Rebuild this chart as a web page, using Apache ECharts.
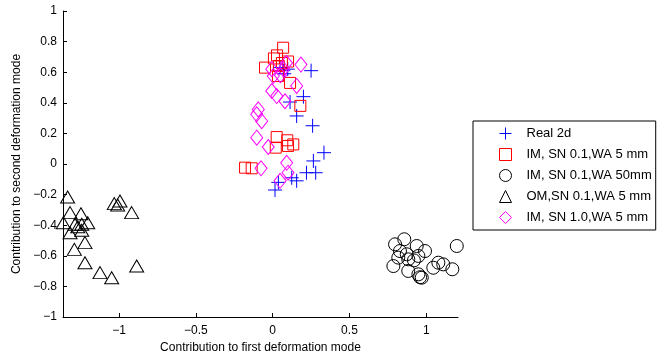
<!DOCTYPE html>
<html>
<head>
<meta charset="utf-8">
<script src="https://cdn.jsdelivr.net/npm/echarts@6/dist/echarts.min.js"></script>
<style>
  html, body { margin: 0; padding: 0; background: #fff; }
  #chart { width: 668px; height: 360px; }
</style>
</head>
<body>
<div id="chart"></div>
<script>
// legend names
var seriesNames = ['Real 2d', 'IM, SN 0.1,WA 5 mm', 'IM, SN 0.1,WA 50mm', 'OM,SN 0.1,WA 5 mm', 'IM, SN 1.0,WA 5 mm'];

// tick values
var xTicks = [-1, -0.5, 0, 0.5, 1];

// points [first mode, second mode]
var real2d = [
  [0.25, 0.61], [0.098, 0.62], [0.069, 0.61], [0.048, 0.63], [0.075, 0.59],
  [0.2, 0.44], [0.113, 0.405], [0.156, 0.314], [0.26, 0.25], [0.334, 0.074],
  [0.265, 0.02], [0.22, -0.057], [0.28, -0.057], [0.124, -0.09], [0.156, -0.11],
  [0.037, -0.12], [0.015, -0.17]
];
var imSn01Wa5 = [
  [0.068, 0.76], [0.028, 0.71], [0.008, 0.69], [-0.05, 0.63], [0.1, 0.67],
  [0.06, 0.66], [0.04, 0.64], [0.035, 0.575], [0.113, 0.53], [0.18, 0.38],
  [0.026, 0.176], [0.095, 0.155], [0.02, 0.107], [0.1, 0.118], [0.134, 0.128],
  [-0.18, -0.024], [-0.137, -0.028]
];
var imSn01Wa50 = [
  [0.857, -0.492], [0.797, -0.525], [0.818, -0.612], [0.786, -0.667], [0.873, -0.59],
  [0.883, -0.623], [0.938, -0.536], [0.992, -0.569], [0.949, -0.601], [0.883, -0.699],
  [0.949, -0.721], [0.971, -0.743], [1.046, -0.678], [1.079, -0.645], [1.111, -0.656],
  [1.17, -0.688], [1.199, -0.536], [0.829, -0.569], [0.92, -0.63], [0.96, -0.74]
];
var omSn01Wa5 = [
  [-1.336, -0.216], [-1.32, -0.318], [-1.364, -0.384], [-1.249, -0.325], [-1.205, -0.384],
  [-1.288, -0.394], [-1.244, -0.394], [-1.32, -0.449], [-1.244, -0.433], [-1.223, -0.514],
  [-1.292, -0.558], [-1.223, -0.645], [-1.125, -0.71], [-1.049, -0.743], [-0.886, -0.667],
  [-1.032, -0.259], [-0.995, -0.242], [-1.01, -0.268], [-0.919, -0.318], [-1.27, -0.41]
];
var imSn10Wa5 = [
  [0.184, 0.65], [-0.006, 0.62], [0.004, 0.575], [0.07, 0.62], [0.09, 0.66],
  [0.05, 0.58], [0.156, 0.51], [-0.006, 0.477], [0.026, 0.444], [0.08, 0.41],
  [-0.094, 0.357], [-0.104, 0.325], [-0.072, 0.28], [-0.104, 0.172], [-0.029, 0.111],
  [-0.076, -0.028], [0.091, 0.008], [0.1, -0.057], [0.048, -0.11]
];

var font = 'Liberation Sans, Arial, Helvetica, sans-serif';

function minus(v) {
  return String(+v.toFixed(2)).replace('-', '\u2212');
}

function hollow(name, data, symbol, size, color) {
  return {
    name: name,
    type: 'scatter',
    data: data,
    symbol: symbol,
    symbolSize: size,
    itemStyle: { color: 'none', borderColor: color, borderWidth: 1, opacity: 1 },
    emphasis: { disabled: true },
    animation: false
  };
}

var option = {
  backgroundColor: '#fff',
  animation: false,
  grid: { left: 63, right: 210, top: 11, bottom: 43 },
  legend: {
    orient: 'vertical',
    left: 473,
    top: 121,
    padding: [4, 4, 4, 24],
    itemGap: 4,
    itemWidth: 12,
    itemHeight: 12,
    borderColor: '#000',
    borderWidth: 1,
    backgroundColor: '#fff',
    borderRadius: 0,
    itemStyle: { borderWidth: 1 },
    textStyle: { fontFamily: font, fontSize: 13, color: '#000', padding: [0, 0, 0, 10] },
    data: seriesNames
  },
  xAxis: {
    type: 'value',
    min: -1.366,
    max: 1.207,
    name: 'Contribution to first deformation mode',
    nameLocation: 'middle',
    nameGap: 21,
    nameTextStyle: { fontFamily: font, fontSize: 12, color: '#000' },
    axisLine: { onZero: false, lineStyle: { color: '#000', width: 1 } },
    axisTick: { inside: true, length: 4, customValues: xTicks, lineStyle: { color: '#000' } },
    axisLabel: { customValues: xTicks, formatter: minus, fontFamily: font, fontSize: 12, color: '#000', margin: 8 },
    splitLine: { show: false }
  },
  yAxis: {
    type: 'value',
    min: -1,
    max: 1,
    interval: 0.2,
    name: 'Contribution to second deformation mode',
    nameLocation: 'middle',
    nameGap: 34,
    nameTextStyle: { fontFamily: font, fontSize: 12, color: '#000' },
    axisLine: { show: true, onZero: false, lineStyle: { color: '#000', width: 1 } },
    axisTick: { show: true, inside: true, length: 4, lineStyle: { color: '#000' } },
    axisLabel: { formatter: minus, fontFamily: font, fontSize: 12, color: '#000', margin: 6 },
    splitLine: { show: false }
  },
  series: [
    hollow(seriesNames[0], real2d, 'path://M0,7H14M7,0V14', 14, '#0000ff'),
    hollow(seriesNames[1], imSn01Wa5, 'rect', 11, '#ff0000'),
    hollow(seriesNames[2], imSn01Wa50, 'circle', 13, '#000000'),
    hollow(seriesNames[3], omSn01Wa5, 'triangle', [14, 12], '#000000'),
    hollow(seriesNames[4], imSn10Wa5, 'diamond', [12, 15], '#ff00ff')
  ]
};

var myChart = echarts.init(document.getElementById('chart'), null, { renderer: 'canvas' });
myChart.setOption(option);
</script>
</body>
</html>
